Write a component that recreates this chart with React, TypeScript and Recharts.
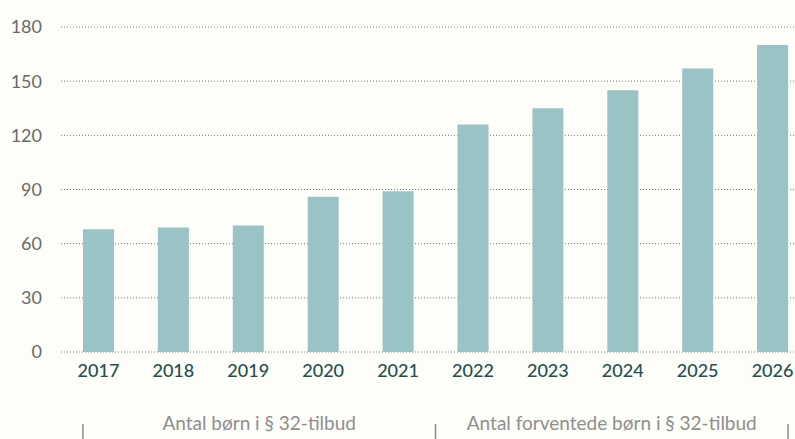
import { Bar, BarChart, CartesianGrid, XAxis, YAxis } from "recharts";

const years = ["2017", "2018", "2019", "2020", "2021", "2022", "2023", "2024", "2025", "2026"];
const children = [68, 69, 70, 86, 89, 126, 135, 145, 157, 170];
const yTicks = [0, 30, 60, 90, 120, 150, 180];

const groupLabels = ["Antal børn i § 32-tilbud", "Antal forventede børn i § 32-tilbud"];
const groupSizes = [5, 5];

const data = years.map((year, i) => ({ year, children: children[i] }));

const CHART_W = 810;
const Y_W = 61;
const BAR = 31;
const STEP = (CHART_W - Y_W) / years.length;
const FONT = "Lato, 'Open Sans', sans-serif";

// index of first category in each group
const groupStarts = groupSizes.map((_, i) => groupSizes.slice(0, i).reduce((a, b) => a + b, 0));

function GroupTick(props: any) {
  const { x, y, index } = props;
  const g = groupStarts.indexOf(index);
  if (g < 0) return <g />;
  const n = groupSizes[g];
  const last = g === groupSizes.length - 1;
  const left = g === 0 ? x - BAR / 2 : x - STEP / 2;
  const right = last ? x + (n - 1) * STEP + BAR / 2 : x + (n - 1) * STEP + STEP / 2;
  return (
    <g>
      <line x1={left} x2={left} y1={y + 32} y2={y + 48} stroke="#8d8d8d" strokeWidth={1.5} />
      {last && <line x1={right} x2={right} y1={y + 32} y2={y + 48} stroke="#8d8d8d" strokeWidth={1.5} />}
      <text x={(left + right) / 2} y={y + 38} textAnchor="middle" fill="#8f8f8f" fontSize={19} fontFamily={FONT}>
        {groupLabels[g]}
      </text>
    </g>
  );
}

export default function App() {
  return (
    <div
      style={{
        position: "fixed",
        left: 0,
        top: 0,
        width: 795,
        height: 439,
        overflow: "hidden",
        background: "#fdfdf9"
      }}
    >
      <BarChart width={CHART_W} height={439} data={data} margin={{ top: 27, right: 0, left: 0, bottom: 0 }}>
        <CartesianGrid vertical={false} stroke="#7a7a7a" strokeDasharray="1 2" />
        <XAxis
          dataKey="year"
          axisLine={false}
          tickLine={false}
          tickSize={0}
          tickMargin={12}
          height={40}
          interval={0}
          tick={{ fontSize: 18, fill: "#234f4f", fontFamily: FONT, fontWeight: 500 }}
        />
        <XAxis
          xAxisId="groups"
          dataKey="year"
          interval={0}
          axisLine={false}
          tickLine={false}
          tickSize={0}
          tickMargin={0}
          height={47}
          tick={<GroupTick />}
        />
        <YAxis
          domain={[0, 180]}
          ticks={yTicks}
          axisLine={false}
          tickLine={false}
          tickSize={0}
          tickMargin={19}
          width={Y_W}
          tick={{ fontSize: 18, fill: "#6a6a6a", fontFamily: FONT }}
        />
        <Bar dataKey="children" fill="#9ac3c5" barSize={BAR} isAnimationActive={false} />
      </BarChart>
    </div>
  );
}
